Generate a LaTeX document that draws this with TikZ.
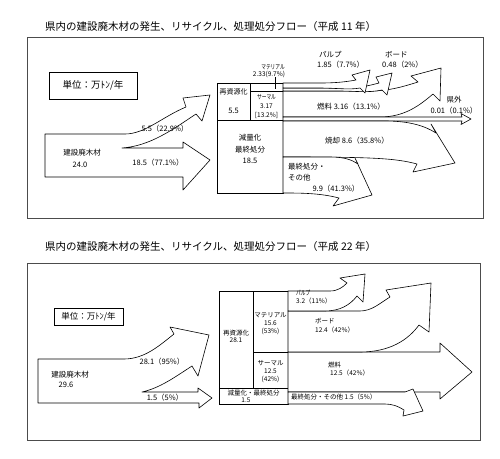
\documentclass[tikz,border=0pt]{standalone}
\usepackage{fontspec}
\setmainfont{Noto Sans CJK JP}
\usetikzlibrary{positioning}

\newcommand{\narrow}[1]{\scalebox{0.72}[1]{#1}}

\begin{document}
\begin{tikzpicture}[x=1pt,y=-1pt]
  \tikzstyle{flow} = [draw, fill=white, line width=0.6pt, line join=round]
  \tikzstyle{cell} = [draw, line width=1pt]
  \tikzstyle{frame} = [draw=black!70, line width=0.9pt]
  \tikzstyle{ttl} = [inner sep=0pt, anchor=west, font=\fontsize{10.5}{12}\selectfont]
  \tikzstyle{unitbox} = [draw, line width=0.7pt, inner sep=0pt]
  \tikzstyle{lbl} = [inner sep=0pt, font=\fontsize{7.5}{9}\selectfont]
  \tikzstyle{sml} = [inner sep=0pt, font=\fontsize{6.5}{7}\selectfont]

  \useasboundingbox (0,0) rectangle (500,458);

  % ---- H11 ----
  \node[ttl] (title1) at (45,27) {県内の建設廃木材の発生、リサイクル、処理処分フロー（平成 11 年）};
  \draw[frame] (27,37) rectangle (483,218);
  \node[unitbox, minimum width=88pt, minimum height=27pt, font=\fontsize{9.5}{11}\selectfont] (unit1) at (93,85.5) {単位：万ﾄﾝ/年};

  % source arrow
  \draw[flow] (45,134) -- (125,134) .. controls (145,134) and (162,117) .. (186,107)
    -- (183,98) -- (210,95) -- (202,121) -- (196,114)
    .. controls (172,130) and (150,146) .. (122,148)
    -- (183,148) -- (183,142) -- (210,160) -- (183,190) -- (183,177) -- (45,177) -- cycle;

  % boxes
  \draw[cell] (217,83) rectangle (283,193);
  \draw[cell] (250,83) -- (250,120);
  \draw[cell] (250,91) -- (283,91);
  \draw[cell] (217,120) -- (283,120);
  \coordinate (matTick) at (275,89);

  % outflows
  \draw[flow] (283,91) -- (370,91) .. controls (390,91) and (405,86) .. (418,82)
    -- (411,76) -- (441,68) -- (440,101) -- (433,94)
    .. controls (420,105) and (405,117) .. (380,117) -- (283,117) -- cycle;
  \draw[flow] (283,88) -- (345,88) .. controls (358,88) and (368,86) .. (379,83)
    -- (376,77) -- (392,73) -- (387,95) -- (382,90)
    .. controls (368,93) and (355,91) .. (340,91) -- (283,91) -- cycle;
  \draw[flow] (283,83) -- (320,83) .. controls (335,83) and (345,82) .. (356,80)
    -- (352,75) -- (370,70) -- (365,93) -- (360,88)
    .. controls (350,90) and (335,88) .. (320,88) -- (283,88) -- cycle;
  \draw[flow] (283,117) -- (462,117) -- (461,113.5) -- (471,119) -- (461,124.5) -- (462,121) -- (283,121) -- cycle;
  \draw[flow] (283,121) -- (385,121) .. controls (410,121) and (425,126) .. (436,133)
    -- (431,124) -- (455,163) -- (413,172) -- (417,164)
    .. controls (395,158) and (370,157) .. (283,157) -- cycle;
  \draw[flow] (283,157) -- (330,157) .. controls (345,157) and (352,160) .. (358,164)
    -- (355,158) -- (372,195) -- (333,206) -- (339,198)
    .. controls (320,193) and (300,193) .. (283,193) -- cycle;

  % labels
  \node[lbl] (srcT1) at (82,153) {建設廃木材};
  \node[lbl] (srcV1) at (80,165) {24.0};
  \node[lbl] (upV1) at (165,129) {5.5（22.9\%）};
  \node[lbl] (dnV1) at (158,163) {18.5（77.1\%）};
  \node[sml, font=\fontsize{7}{8}\selectfont] (recT1) at (233.5,92) {再資源化};
  \node[lbl] (recV1) at (233.5,111) {5.5};
  \node[sml] (matT1) at (273,67) {\narrow{マテリアル}};
  \node[sml] (matV1) at (269,74) {2.33(9.7\%)};
  \draw ([xshift=6pt]matV1.south) -- (matTick);
  \node[sml] (thmT1) at (266.5,97) {\narrow{サーマル}};
  \node[sml] (thmV1) at (266.5,106) {3.17};
  \node[sml] (thmP1) at (266.5,115) {[13.2\%]};
  \node[lbl, anchor=west] (pulpT1) at (319,55) {パルプ};
  \node[lbl, anchor=west] (pulpV1) at (317,65) {1.85（7.7\%）};
  \node[lbl, anchor=west] (boardT1) at (385,55) {ボード};
  \node[lbl, anchor=west] (boardV1) at (382,65) {0.48（2\%）};
  \node[lbl] (fuel1) at (351,107) {燃料 3.16（13.1\%）};
  \node[lbl] (outT1) at (454,100) {県外};
  \node[lbl] (outV1) at (454,111) {0.01（0.1\%）};
  \node[lbl] (burn1) at (357,141) {焼却 8.6（35.8\%）};
  \node[lbl] (redT1) at (250,138) {減量化};
  \node[lbl] (redU1) at (250,150) {最終処分};
  \node[lbl] (redV1) at (250,161) {18.5};
  \node[lbl, anchor=west] (lfT1) at (288,167) {最終処分・};
  \node[lbl, anchor=west] (lfU1) at (288,178) {その他};
  \node[lbl] (lfV1) at (336,189) {9.9（41.3\%）};

  % ---- H22 ----
  \node[ttl] (title2) at (45,247) {県内の建設廃木材の発生、リサイクル、処理処分フロー（平成 22 年）};
  \draw[frame] (27,263) rectangle (480,440);
  \node[unitbox, minimum width=69pt, minimum height=17pt, font=\fontsize{8.5}{10}\selectfont] (unit2) at (88.5,316.5) {単位：万ﾄﾝ/年};

  % source arrow
  \draw[flow] (38,359) -- (124,359) .. controls (145,359) and (160,345) .. (174,334)
    -- (170,327) -- (209,335) -- (198,376) -- (192,366)
    .. controls (175,377) and (160,388) .. (142,392)
    -- (198,392) -- (198,388) -- (212,398) -- (199,408) -- (199,403) -- (38,403) -- cycle;

  % boxes
  \draw[cell] (219,291) rectangle (288,404);
  \draw[cell] (253,291) -- (253,388);
  \draw[cell] (253,352) -- (288,352);
  \draw[cell] (219,388) -- (288,388);

  % outflows
  \draw[flow] (288,352) -- (440,352) -- (440,343) -- (472,372) -- (440,399) -- (440,392) -- (288,392) -- cycle;
  \draw[flow] (288,311) -- (360,311) .. controls (372,311) and (380,303) .. (390,297)
    -- (386,290) -- (431,283) -- (429,332) -- (419,325)
    .. controls (408,340) and (390,352) .. (360,352) -- (288,352) -- cycle;
  \draw[flow] (288,291) -- (330,291) .. controls (338,291) and (343,287) .. (347,283)
    -- (340,278) -- (365,274) -- (363,302) -- (357,296)
    .. controls (350,305) and (340,311) .. (325,311) -- (288,311) -- cycle;
  \draw[flow] (288,392) -- (405,392) -- (413,389) -- (423,411) -- (403,416) -- (404,410)
    .. controls (398,406) and (392,404) .. (385,404) -- (288,404) -- cycle;

  % labels
  \node[lbl] (srcT2) at (70,375) {建設廃木材};
  \node[lbl] (srcV2) at (66,385) {29.6};
  \node[lbl] (upV2) at (162,362) {28.1（95\%）};
  \node[lbl] (dnV2) at (165,398) {1.5（5\%）};
  \node[sml] (recT2) at (236,333) {再資源化};
  \node[sml] (recV2) at (236,340) {28.1};
  \node[sml] (matT2) at (270.5,315) {マテリアル};
  \node[sml] (matV2) at (270.5,323) {15.6};
  \node[sml] (matP2) at (270.5,331) {(53\%)};
  \node[sml] (thmT2) at (270.5,363) {サーマル};
  \node[sml] (thmV2) at (270.5,371) {12.5};
  \node[sml] (thmP2) at (270.5,379) {(42\%)};
  \node[sml] (redT2) at (253.5,393) {減量化・最終処分};
  \node[sml] (redV2) at (246,400) {1.5};
  \node[sml, anchor=west] (pulpT2) at (296,293) {\narrow{パルプ}};
  \node[sml, anchor=west] (pulpV2) at (296,301) {3.2（11\%）};
  \node[sml, anchor=west] (boardT2) at (315,321) {ボード};
  \node[sml, anchor=west] (boardV2) at (315,330) {12.4（42\%）};
  \node[sml, anchor=west] (fuelT2) at (328,365) {燃料};
  \node[sml, anchor=west] (fuelV2) at (330,373) {12.5（42\%）};
  \node[sml, anchor=west] (lfT2) at (291,397) {最終処分・その他 1.5（5\%）};
\end{tikzpicture}
\end{document}
